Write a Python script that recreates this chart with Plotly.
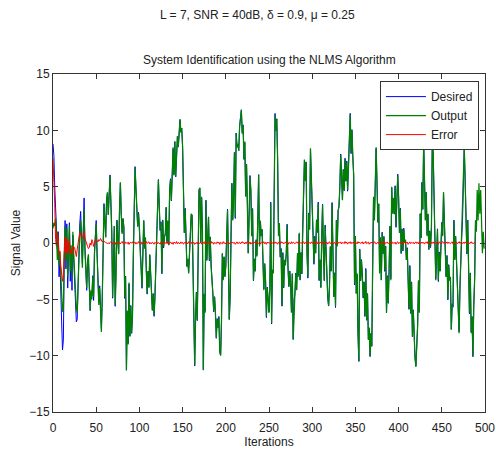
import plotly.graph_objects as go

# Filter output y[n] per iteration (n = 0 .. 499)
output = [
    1.3, 1.8, 1.5, 2.2, 0.8, -1.5, 0.5, -2.0, -0.8, -3.5,
    -4.5, -6.1, -5.8, -1.0, 1.5, -1.5, 1.3, -3.0, -0.5, 1.6,
    -2.5, -0.2, -3.2, 1.0, -1.0, -2.8, -4.5, -5.8, -6.2, -3.0,
    -1.0, 0.8, 2.0, -0.5, -2.2, 0.5, 3.0, -0.8, -2.5, -4.0,
    -1.5, -1.0, -3.5, -6.0, -4.2, -5.0, -3.0, -4.8, -1.0, 1.2,
    1.7, -1.0, -3.0, -5.5, -4.0, -6.5, -7.9, -5.0, -1.5, 3.4,
    2.0, 0.5, 3.8, 4.5, 2.5, 4.2, 6.0, 3.5, 1.0, -4.8,
    -2.0, 1.5, -5.5, -3.0, 2.0, 0.5, -1.0, 3.0, 5.4, 2.5,
    0.8, 2.2, 1.4, -4.8, -3.0, -11.3, -6.0, -9.0, -3.5, -8.3,
    -5.6, -8.0, -6.5, -1.0, 2.0, 6.7, 4.9, 2.0, 1.5, 2.6,
    1.4, -0.9, -2.1, -3.9, -1.0, 2.0, -0.5, 0.5, -2.5, -4.5,
    -2.5, -4.0, -1.0, -2.7, -3.0, -6.0, -4.5, -6.4, -4.8, -1.5,
    1.0, 4.1, 5.6, 3.2, 1.2, 1.8, -2.7, 2.0, -0.3, 0.5,
    0.8, 3.2, 0.0, 2.0, -0.2, 4.7, 5.6, 3.8, 5.9, 8.5,
    6.0, 9.0, 5.9, 8.0, 9.5, 8.5, 10.0, 11.0, 9.8, 10.2,
    8.5, 4.1, 0.9, 3.0, -0.5, -2.1, -1.4, -2.7, -0.9, 0.9,
    2.6, 2.4, -3.3, -4.5, -10.8, -6.8, -4.4, -6.8, -2.0, 4.7,
    4.9, 0.0, 4.1, 0.9, -11.3, -4.5, -6.2, 3.8, -1.5, 0.5,
    2.3, -1.5, 0.5, -2.1, -4.0, -4.5, -6.0, -4.8, -6.2, -8.4,
    -6.8, -7.5, -6.6, -9.6, -10.0, -7.0, -0.9, -3.3, -1.2, -3.0,
    -2.0, 0.5, 2.9, -1.5, -6.8, -4.8, 0.9, 5.3, 2.0, 4.0,
    8.0, 2.3, 9.7, 8.5, 8.8, 8.2, 10.3, 11.0, 11.8, 9.7,
    10.5, 7.4, 9.0, 4.1, 7.0, 3.2, -0.9, 2.5, 5.9, 4.7,
    0.6, 3.0, -3.3, -1.5, -2.5, 0.3, -1.2, 2.0, 6.1, -0.3,
    2.0, 0.6, 1.2, -1.5, -4.2, -1.8, -3.3, -6.5, -4.0, -5.0,
    -6.2, -3.9, 3.5, -7.1, -2.4, -2.7, 3.8, 11.4, 10.0, 11.0,
    7.4, 0.6, 1.7, -1.2, -0.6, -5.6, -0.9, -3.9, -1.5, -2.0,
    -0.9, 1.6, -2.1, -3.9, -2.5, -3.5, -6.2, -2.7, -8.6, -5.0,
    -4.5, -2.7, -4.2, -0.9, -3.0, 0.9, -3.3, -0.9, -2.7, 1.5,
    6.2, 7.4, 5.5, 7.2, -1.0, -3.0, 2.6, 1.2, 8.4, 5.6,
    4.5, 1.4, -1.8, 0.5, -0.9, 2.0, 1.0, 3.5, -3.3, -1.5,
    -4.0, 0.5, 3.4, -0.9, -3.3, 1.5, -1.2, -3.6, -4.8, -5.6,
    -3.9, -0.3, -2.5, 3.5, -0.9, -4.8, -2.7, -5.6, 2.0, -0.3,
    2.9, 3.2, 5.0, 7.8, 6.0, 3.8, 6.5, 4.7, 7.4, 5.5,
    7.2, 4.7, 6.8, 10.0, 11.4, 8.0, 10.0, 7.7, 6.0, -3.6,
    0.6, -4.5, -2.7, -8.0, -10.5, -0.6, -3.3, -1.5, -2.7, -4.8,
    -3.5, -6.5, -2.4, -6.8, -4.5, -8.6, -7.5, -10.1, -8.0, -9.2,
    -1.5, 4.1, 2.0, 6.0, 8.5, 5.3, 1.8, 3.5, -2.7, 0.5,
    -3.3, 0.9, -0.9, 0.5, -2.4, -0.3, -6.2, -3.0, -5.3, -2.4,
    1.5, -3.3, 5.0, 2.6, 4.0, 2.6, 5.0, 1.5, 4.5, 6.0,
    4.1, 0.9, 3.0, -0.9, 1.2, -0.6, 1.2, 0.0, 0.3, -1.5,
    -0.5, -3.5, -5.9, -2.1, -6.2, -3.5, -8.3, -6.0, -8.6, -10.2,
    -11.0, -9.2, -7.4, -3.3, -6.2, 2.6, 0.5, 5.3, 3.0, 9.0,
    5.9, 2.0, 4.5, 0.6, 2.6, -0.6, 1.0, -0.3, 1.4, 9.0,
    8.0, 4.4, 0.3, -3.3, -1.0, 1.2, -3.3, -0.9, -2.5, 0.3,
    1.8, 0.6, 4.5, 1.8, -0.9, -3.0, -1.2, -5.0, -2.0, -3.3,
    -3.0, -7.7, -5.5, -5.6, 2.0, -1.5, 0.6, -2.1, -2.7, -6.2,
    -8.0, -4.0, -1.2, 0.5, 2.0, 5.0, 8.5, 5.6, 2.0, -0.9,
    2.0, -2.4, -6.2, -2.7, -8.0, -6.5, -10.1, -5.5, -3.3, 2.0,
    1.0, 4.7, 2.0, 5.3, 2.6, 4.7, 2.3, -0.9, 1.0, -0.5,
]

# Estimation error e[n]: large while the weights adapt, then small jitter
error = [
    7.5, 6.0, 3.5, 0.3, -0.3, 1.0, 0.5, -1.0, -0.7, -2.0,
    -2.5, -3.4, -2.8, -0.6, 0.5, -0.8, 0.4, -1.0, -0.3, 0.2,
    -0.9, -0.6, -1.0, -0.3, -0.5, -0.4, -0.8, -1.2, -0.6, 0.2,
    0.5, 0.9, 0.8, 0.6, 0.4, 0.7, 1.0, 0.4, 0.1, -0.2,
    -0.3, -0.5, -0.4, 0.0, -0.2, 0.3, 0.1, -0.3, 0.2, 0.3,
    0.3, 0.2, 0.1, 0.3, 0.2, 0.4, 0.3, 0.1, 0.2, 0.1,
    0.10, 0.05, 0.00, -0.05, 0.02, -0.08, 0.04, 0.12, -0.03, -0.10,
    0.06, 0.00, -0.12, 0.08, 0.03, -0.06, 0.10, -0.02, -0.09, 0.05,
    0.14, -0.04, 0.02, -0.11, 0.07, 0.01, -0.06, 0.09, -0.13, 0.03,
    0.06, -0.02, 0.11, -0.07, 0.00, 0.08, -0.10, 0.04, -0.03, 0.12,
    -0.05, 0.02, 0.09, -0.12, 0.05, -0.01, 0.07, -0.08, 0.13, -0.04,
    0.00, 0.10, -0.09, 0.03, -0.06, 0.08, 0.01, -0.11, 0.06, -0.02,
    0.11, -0.07, 0.04, 0.00, -0.10, 0.09, -0.03, 0.05, -0.14, 0.07,
    0.02, -0.05, 0.12, -0.08, 0.03, -0.01, 0.10, -0.06, 0.04, -0.12,
    0.08, 0.00, -0.04, 0.13, -0.09, 0.05, 0.02, -0.07, 0.10, -0.03,
    0.06, -0.11, 0.01, 0.09, -0.05, 0.03, -0.08, 0.12, -0.02, 0.04,
    -0.06, 0.10, -0.03, 0.07, -0.12, 0.02, 0.05, -0.09, 0.11, 0.00,
    -0.04, 0.08, -0.10, 0.03, 0.06, -0.07, 0.13, -0.01, -0.05, 0.09,
    0.02, -0.08, 0.05, 0.15, -0.03, 0.07, -0.11, 0.04, 0.00, -0.06,
    0.10, -0.02, 0.08, -0.13, 0.06, 0.01, -0.07, 0.12, -0.04, 0.03,
    -0.09, 0.05, 0.11, -0.05, 0.02, -0.10, 0.07, 0.00, 0.09, -0.03,
    0.04, -0.12, 0.06, 0.10, -0.06, 0.01, 0.08, -0.08, 0.03, 0.12,
    -0.02, 0.05, -0.09, 0.07, -0.04, 0.14, 0.00, -0.07, 0.09, -0.11,
    0.03, 0.06, -0.05, 0.10, -0.01, -0.08, 0.12, 0.02, -0.06, 0.04,
    -0.10, 0.08, 0.01, -0.03, 0.11, -0.07, 0.05, -0.12, 0.09, 0.00,
    0.06, -0.04, 0.13, -0.09, 0.02, 0.07, -0.05, 0.10, -0.02, 0.03,
    -0.11, 0.08, 0.04, -0.06, 0.12, -0.01, 0.05, -0.08, 0.00, 0.10,
    -0.03, 0.07, -0.13, 0.06, 0.02, -0.09, 0.11, -0.04, 0.08, 0.01,
    -0.07, 0.04, 0.09, -0.02, 0.14, -0.10, 0.03, 0.06, -0.05, 0.00,
    0.12, -0.08, 0.05, -0.01, 0.09, -0.12, 0.07, 0.02, -0.06, 0.10,
    -0.03, 0.04, -0.09, 0.11, 0.00, 0.06, -0.07, 0.13, -0.04, 0.02,
    0.08, -0.11, 0.05, 0.01, -0.05, 0.10, -0.02, 0.07, -0.10, 0.03,
    0.12, -0.06, 0.00, 0.09, -0.08, 0.04, 0.06, -0.13, 0.02, 0.11,
    -0.04, 0.07, -0.01, 0.10, -0.09, 0.05, 0.03, -0.06, 0.13, -0.02,
    0.08, -0.10, 0.04, 0.00, 0.11, -0.07, 0.06, -0.03, 0.09, -0.12,
    0.02, 0.05, -0.08, 0.12, -0.01, 0.07, -0.05, 0.03, 0.10, -0.09,
    0.06, -0.02, 0.14, -0.06, 0.01, 0.08, -0.11, 0.04, -0.03, 0.09,
    0.00, -0.07, 0.11, 0.05, -0.10, 0.03, 0.07, -0.04, 0.12, -0.08,
    0.02, 0.06, -0.05, 0.09, -0.12, 0.04, 0.01, 0.10, -0.06, 0.03,
    -0.02, 0.13, -0.09, 0.07, 0.00, -0.04, 0.08, -0.11, 0.05, 0.11,
    -0.07, 0.02, 0.09, -0.03, 0.06, -0.10, 0.12, 0.01, -0.05, 0.04,
    0.08, -0.12, 0.03, 0.10, -0.06, 0.05, -0.01, 0.07, -0.09, 0.02,
    0.11, -0.04, 0.06, -0.08, 0.13, 0.00, -0.05, 0.09, -0.02, 0.04,
    -0.10, 0.07, 0.01, 0.12, -0.07, 0.03, 0.08, -0.11, 0.05, -0.03,
    0.10, -0.06, 0.02, 0.09, -0.04, 0.06, -0.12, 0.11, 0.00, -0.08,
    0.04, 0.13, -0.03, 0.07, -0.09, 0.01, 0.10, -0.05, 0.08, -0.02,
    -0.06, 0.05, 0.11, -0.10, 0.03, 0.07, -0.01, 0.09, -0.07, 0.04,
    0.12, -0.03, 0.06, -0.11, 0.02, 0.08, -0.05, 0.10, 0.00, -0.08,
    0.03, 0.07, -0.09, 0.05, 0.11, -0.04, 0.02, -0.06, 0.09, 0.01,
]

# Desired signal d[n] = y[n] + e[n]
desired = [y + e for y, e in zip(output, error)]
iterations = list(range(len(output)))

series_names = ["Desired", "Output", "Error"]
series_colors = ["#0000ff", "#008000", "#ff0000"]
series_widths = [1.0, 1.25, 1.0]
series_values = [desired, output, error]

x_ticks = list(range(0, 501, 50))
y_ticks = list(range(-15, 16, 5))

fig = go.Figure()
for name, color, width, vals in zip(series_names, series_colors, series_widths, series_values):
    fig.add_trace(go.Scatter(
        x=iterations, y=vals, name=name, mode="lines",
        line=dict(color=color, width=width),
    ))

axis_common = dict(
    showgrid=False, zeroline=False, showline=True, linecolor="#333333",
    linewidth=1, mirror="ticks", ticks="inside", ticklen=5,
    tickcolor="#333333", tickwidth=1, automargin=False,
    tickfont=dict(size=12, color="#222222"),
)

fig.update_layout(
    width=496, height=450,
    margin=dict(l=53, r=11, t=74, b=38),
    paper_bgcolor="white", plot_bgcolor="white",
    font=dict(family="Liberation Sans, Arial, sans-serif", size=12, color="#222222"),
    xaxis=dict(range=[0, 500], tickvals=x_ticks, ticklabelstandoff=5,
               title=dict(text="Iterations", standoff=1, font=dict(size=12)),
               **axis_common),
    yaxis=dict(range=[-15, 15], tickvals=y_ticks,
               title=dict(text="Signal Value", standoff=6, font=dict(size=12)),
               **axis_common),
    legend=dict(x=0.986, y=0.979, xanchor="right", yanchor="top",
                bgcolor="white", bordercolor="#333333", borderwidth=1,
                font=dict(size=12, color="#222222"), itemwidth=40,
                tracegroupgap=0),
    showlegend=True,
    annotations=[
        dict(text="System Identification using the NLMS Algorithm",
             xref="paper", yref="paper", x=0.5, y=1.0,
             xanchor="center", yanchor="bottom", yshift=5,
             showarrow=False, font=dict(size=12)),
        dict(text="L = 7, SNR = 40dB, \u03b4 = 0.9, \u03bc = 0.25",
             xref="paper", yref="paper", x=0.473, y=1.1746,
             xanchor="center", yanchor="middle",
             showarrow=False, font=dict(size=12)),
    ],
)

fig.write_html("out.html")
